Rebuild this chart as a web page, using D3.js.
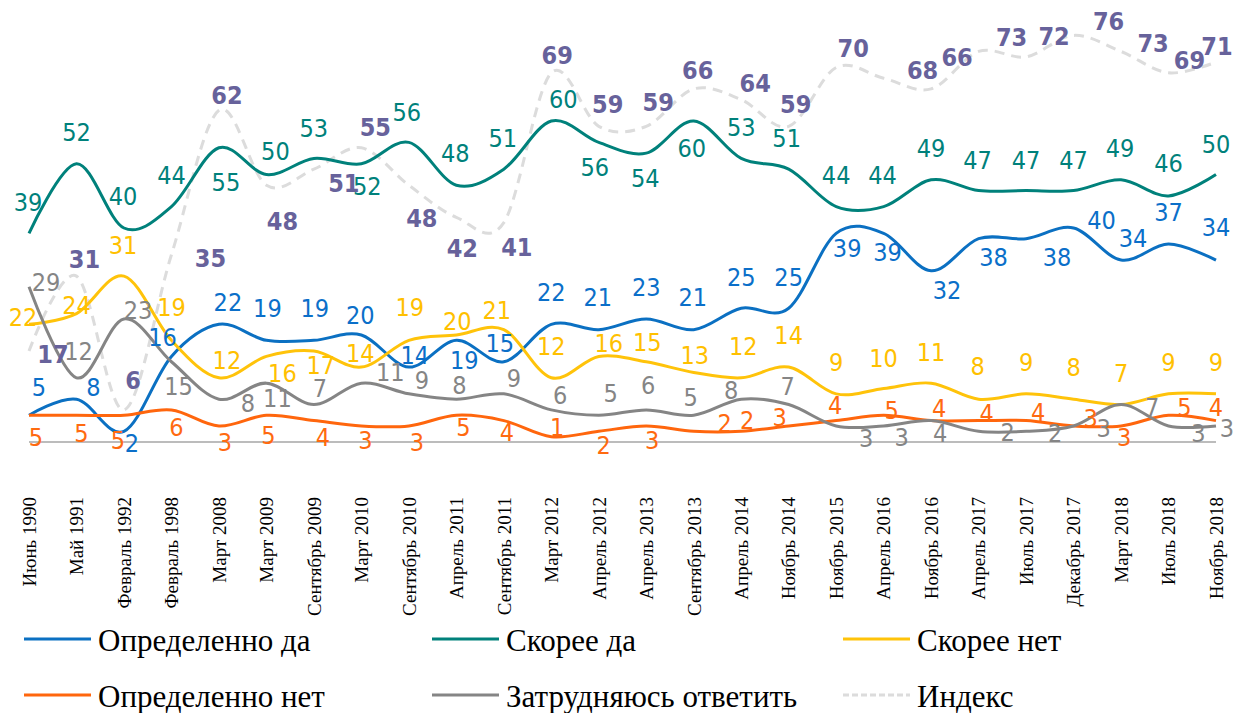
<!DOCTYPE html>
<html><head><meta charset="utf-8">
<script src="https://cdn.jsdelivr.net/npm/d3@7"></script>
<style>
html,body{margin:0;padding:0;background:#fff;}
svg{display:block;}
</style></head>
<body><svg id="chart" width="1248" height="713"></svg>
<script>
const categories = ["Июнь 1990","Май 1991","Февраль 1992","Февраль 1998","Март 2008","Март 2009","Сентябрь 2009","Март 2010","Сентябрь 2010","Апрель 2011","Сентябрь 2011","Март 2012","Апрель 2012","Апрель 2013","Сентябрь 2013","Апрель 2014","Ноябрь 2014","Ноябрь 2015","Апрель 2016","Ноябрь 2016","Апрель 2017","Июль 2017","Декабрь 2017","Март 2018","Июль 2018","Ноябрь 2018"];
const definitelyYes = [5,8,2,16,22,19,19,20,14,19,15,22,21,23,21,25,25,39,39,32,38,38,40,34,37,34];
const ratherYes     = [39,52,40,44,55,50,53,52,56,48,51,60,56,54,60,53,51,44,44,49,47,47,47,49,46,50];
const ratherNo      = [22,24,31,19,12,16,17,14,19,20,21,12,16,15,13,12,14,9,10,11,8,9,8,7,9,9];
const definitelyNo  = [5,5,5,6,3,5,4,3,3,5,4,1,2,3,2,2,3,4,5,4,4,4,3,3,5,4];
const hardToSay     = [29,12,23,15,8,11,7,11,9,8,9,6,5,6,5,8,7,3,3,4,2,2,3,7,3,3];
const indexValues   = [17,31,6,35,62,48,51,55,48,42,41,69,59,59,66,64,59,70,68,66,73,72,76,73,69,71];
const yTicks = [0, 80];

// label nudges (px, relative to the point) — styling only
const nudgeDefYes = [[10,-28],[17,-12],[8,12],[-9,-19],[9,-22],[1,-32],[1,-32],[-1,-20],[6,-12],[8,20],[-4,-19],[0,-32],[-1,-33],[0,-32],[-1,-33],[0,-31],[0,-31],[11,15],[4,19],[16,19],[15,18],[31,18],[28,-8],[12,-22],[0,-32],[0,-33]];
const nudgeRatherYes = [[-1,-31],[0,-32],[-1,-32],[0,-32],[7,34],[9,-24],[0,-30],[6,22],[-2,-30],[-1,-32],[-1,-31],[12,-22],[-4,25],[-1,25],[-2,27],[0,-31],[-2,-31],[0,-32],[-1,-32],[0,-32],[-1,-31],[0,-31],[0,-31],[-1,-32],[0,-33],[0,-31]];
const nudgeRatherNo = [[-6,-7],[0,-9],[-1,-31],[0,-33],[8,-18],[16,17],[7,14],[-1,-14],[1,-33],[1,-14],[-7,-20],[0,-32],[10,-13],[1,-20],[1,-17],[2,-32],[0,-32],[0,-32],[0,-31],[0,-31],[-1,-33],[0,-32],[0,-32],[0,-32],[0,-32],[0,-32]];
const nudgeDefNo = [[7,22],[5,18],[-6,25],[5,17],[6,16],[2,20],[9,16],[4,14],[8,16],[7,12],[3,11],[6,-10],[5,14],[6,14],[31,-8],[6,-11],[-9,-9],[-1,-16],[8,-5],[8,-13],[8,-8],[12,-9],[17,-8],[3,11],[16,-8],[0,-14]];
const nudgeHard = [[17,-5],[2,-27],[14,-9],[7,24],[29,4],[11,15],[6,-17],[29,-11],[13,-14],[3,-14],[10,-16],[9,-15],[12,-22],[2,-25],[-3,-18],[-10,-9],[-1,-19],[30,12],[18,11],[9,12],[29,1],[29,2],[30,2],[31,2],[30,7],[11,2]];
const nudgeIndex = [[24,3],[8,-17],[9,-30],[39,3],[8,-15],[16,36],[30,14],[14,-21],[13,33],[6,31],[13,24],[6,-18],[9,-22],[12,-24],[4,-19],[14,-17],[7,-22],[17,-20],[39,-8],[26,-32],[33,-14],[28,-21],[35,-14],[32,-8],[21,-13],[1,-16]];

const series = [
  {name:"Индекс", values:indexValues, color:"#dcdcdc", label:"#67629b", bold:true, dash:"10,7", nudge:nudgeIndex},
  {name:"Определенно да", values:definitelyYes, color:"#0b70c2", label:"#0b6fc9", nudge:nudgeDefYes},
  {name:"Скорее да", values:ratherYes, color:"#00817b", label:"#00817b", nudge:nudgeRatherYes},
  {name:"Скорее нет", values:ratherNo, color:"#ffc30a", label:"#ffc000", nudge:nudgeRatherNo},
  {name:"Определенно нет", values:definitelyNo, color:"#ff660d", label:"#ff6a10", nudge:nudgeDefNo},
  {name:"Затрудняюсь ответить", values:hardToSay, color:"#858585", label:"#858585", nudge:nudgeHard}
];

const svg = d3.select("#chart");
svg.append("rect").attr("width",1248).attr("height",713).attr("fill","#fff");

const x = d3.scalePoint().domain(categories).range([29, 1216]);
const y = d3.scaleLinear().domain(d3.extent(yTicks)).range([442, 14]);

// axis
const xAxis = d3.axisBottom(x).tickSize(0).tickPadding(0);
const gx = svg.append("g").attr("transform","translate(0,442)").call(xAxis);
gx.select(".domain").attr("stroke","#a6a6a6").attr("stroke-width",1.5).attr("d","M29,0H1216");
gx.selectAll("text")
  .attr("transform","rotate(-90)")
  .attr("x",-55).attr("y",0).attr("dy","0.33em")
  .attr("text-anchor","end")
  .attr("font-family","'Liberation Serif','Times New Roman',serif")
  .attr("font-size",19).attr("fill","#000");

const line = d3.line().x((d,i)=>x(categories[i])).y(d=>y(d)).curve(d3.curveCatmullRom.alpha(0));

svg.append("g").selectAll("path").data(series).join("path")
  .attr("d",s=>line(s.values))
  .attr("fill","none")
  .attr("stroke",s=>s.color)
  .attr("stroke-width",3)
  .attr("stroke-dasharray",s=>s.dash||null);

const lg = svg.append("g");
series.forEach(s=>{
  lg.append("g").selectAll("text").data(s.values).join("text")
    .attr("x",(d,i)=>x(categories[i]) + s.nudge[i][0])
    .attr("y",(d,i)=>y(d) + s.nudge[i][1])
    .attr("dy","0.36em")
    .attr("text-anchor","middle")
    .attr("font-family","'DejaVu Sans Condensed','DejaVu Sans',sans-serif")
    .attr("font-stretch","condensed")
    .attr("font-weight",s.bold?"bold":"normal")
    .attr("font-size",25)
    .attr("fill",s.label)
    .text(d=>d);
});

// legend
const legendOrder = ["Определенно да","Скорее да","Скорее нет","Определенно нет","Затрудняюсь ответить","Индекс"];
const colX = [24, 432, 843], rowY = [639, 695];
const leg = svg.append("g");
legendOrder.forEach((n,k)=>{
  const s = series.find(d=>d.name===n);
  const cx = colX[k%3], cy = rowY[Math.floor(k/3)];
  leg.append("line").attr("x1",cx).attr("x2",cx+67).attr("y1",cy).attr("y2",cy)
    .attr("stroke",s.color).attr("stroke-width",3).attr("stroke-dasharray",s.dash?"6,3":null);
  leg.append("text").attr("x",cx+74).attr("y",cy+2).attr("dy","0.33em")
    .attr("font-family","'Liberation Serif','Times New Roman',serif")
    .attr("font-size",31).attr("fill","#000").text(n);
});
</script></body></html>
